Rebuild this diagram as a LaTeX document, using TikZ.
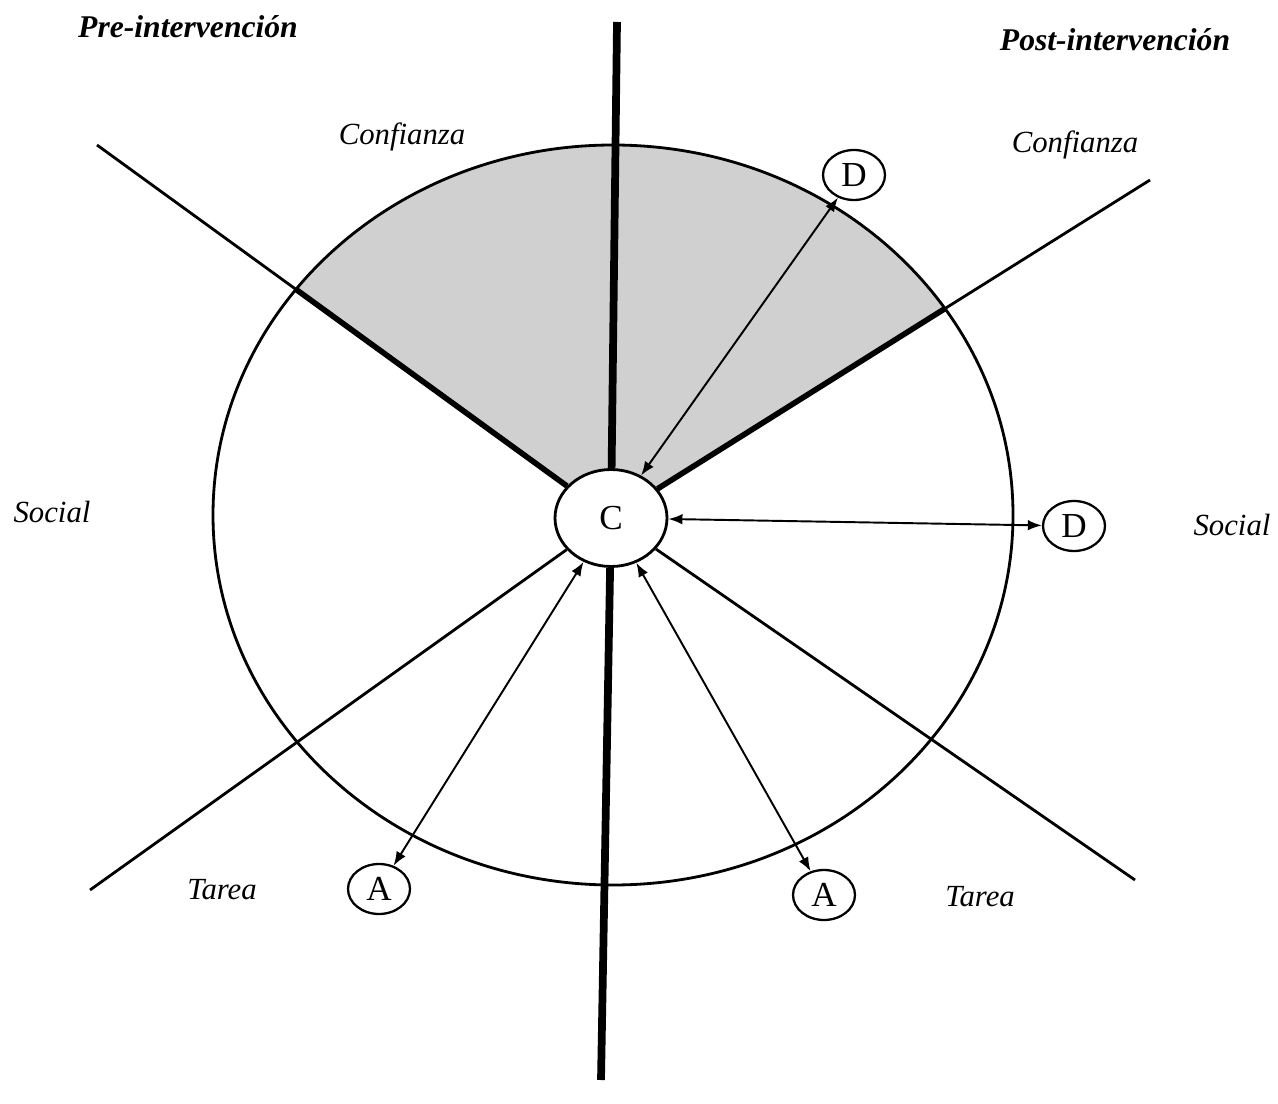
\documentclass[tikz,border=0pt]{standalone}
\usepackage{fontspec}
\setmainfont{Liberation Serif}
\usetikzlibrary{shapes.geometric, arrows.meta, positioning}
\definecolor{pencil}{RGB}{208,208,208}

\begin{document}
\begin{tikzpicture}[x=0.02cm, y=-0.02cm,
    ray/.style={line width=1.6pt},
    edge/.style={line width=3.2pt},
    axis/.style={line width=4.4pt},
    arr/.style={line width=1.1pt, {Latex[length=8pt,width=6pt]}-{Latex[length=8pt,width=6pt]}},
    actor/.style={ellipse, draw, line width=1.3pt, fill=white, minimum width=1.24cm, minimum height=1cm, inner sep=0pt, font=\fontsize{20}{22}\selectfont},
    lbl/.style={font=\fontsize{17.5}{20}\selectfont\itshape},
    head/.style={font=\fontsize{18}{21}\selectfont\bfseries\itshape}]

    \useasboundingbox (0,0) rectangle (1278,1104);

    \coordinate (o) at (611,518);
    \coordinate (ul) at (97,145);
    \coordinate (ur) at (1150,180);
    \coordinate (ll) at (90,890);
    \coordinate (lr) at (1135,880);
    \coordinate (top) at (617,22);
    \coordinate (bot) at (601,1080);

    % confianza sector
    \begin{scope}
        \clip (613,515) ellipse [x radius=400, y radius=370];
        \fill[pencil] (o) -- (ul) -- (97,0) -- (1150,0) -- (ur) -- cycle;
    \end{scope}

    \draw[line width=1.6pt] (613,515) ellipse [x radius=400, y radius=370];

    \node[actor, minimum width=2.24cm, minimum height=1.94cm, line width=1.6pt] (C) at (o) {C};
    \node[actor] (Dt) at (854,175) {D};
    \node[actor] (Dr) at (1074,526) {D};
    \node[actor] (Al) at (379,889) {A};
    \node[actor] (Ar) at (824,895) {A};

    \draw[axis] (top) -- (C);
    \draw[axis] (C) -- (bot);

    \draw[ray] (ul) -- (C);
    \draw[ray] (ur) -- (C);
    \draw[ray] (ll) -- (C);
    \draw[ray] (lr) -- (C);
    \begin{scope}
        \clip (613,515) ellipse [x radius=400, y radius=370];
        \draw[edge] (ul) -- (C);
        \draw[edge] (ur) -- (C);
    \end{scope}

    \draw[arr] (C) -- (Dt);
    \draw[arr] (C) -- (Dr);
    \draw[arr] (C) -- (Al);
    \draw[arr] (C) -- (Ar);

    \node[head] (pre) at (188,27) {Pre-intervención};
    \node[head] (post) at (1115,40) {Post-intervención};
    \node[lbl] (confl) at (402,137) {Confianza};
    \node[lbl] (confr) at (1075,145) {Confianza};
    \node[lbl] (socl) at (52,512) {Social};
    \node[lbl] (socr) at (1232,525) {Social};
    \node[lbl] (tarl) at (222,890) {Tarea};
    \node[lbl] (tarr) at (980,897) {Tarea};

\end{tikzpicture}
\end{document}
